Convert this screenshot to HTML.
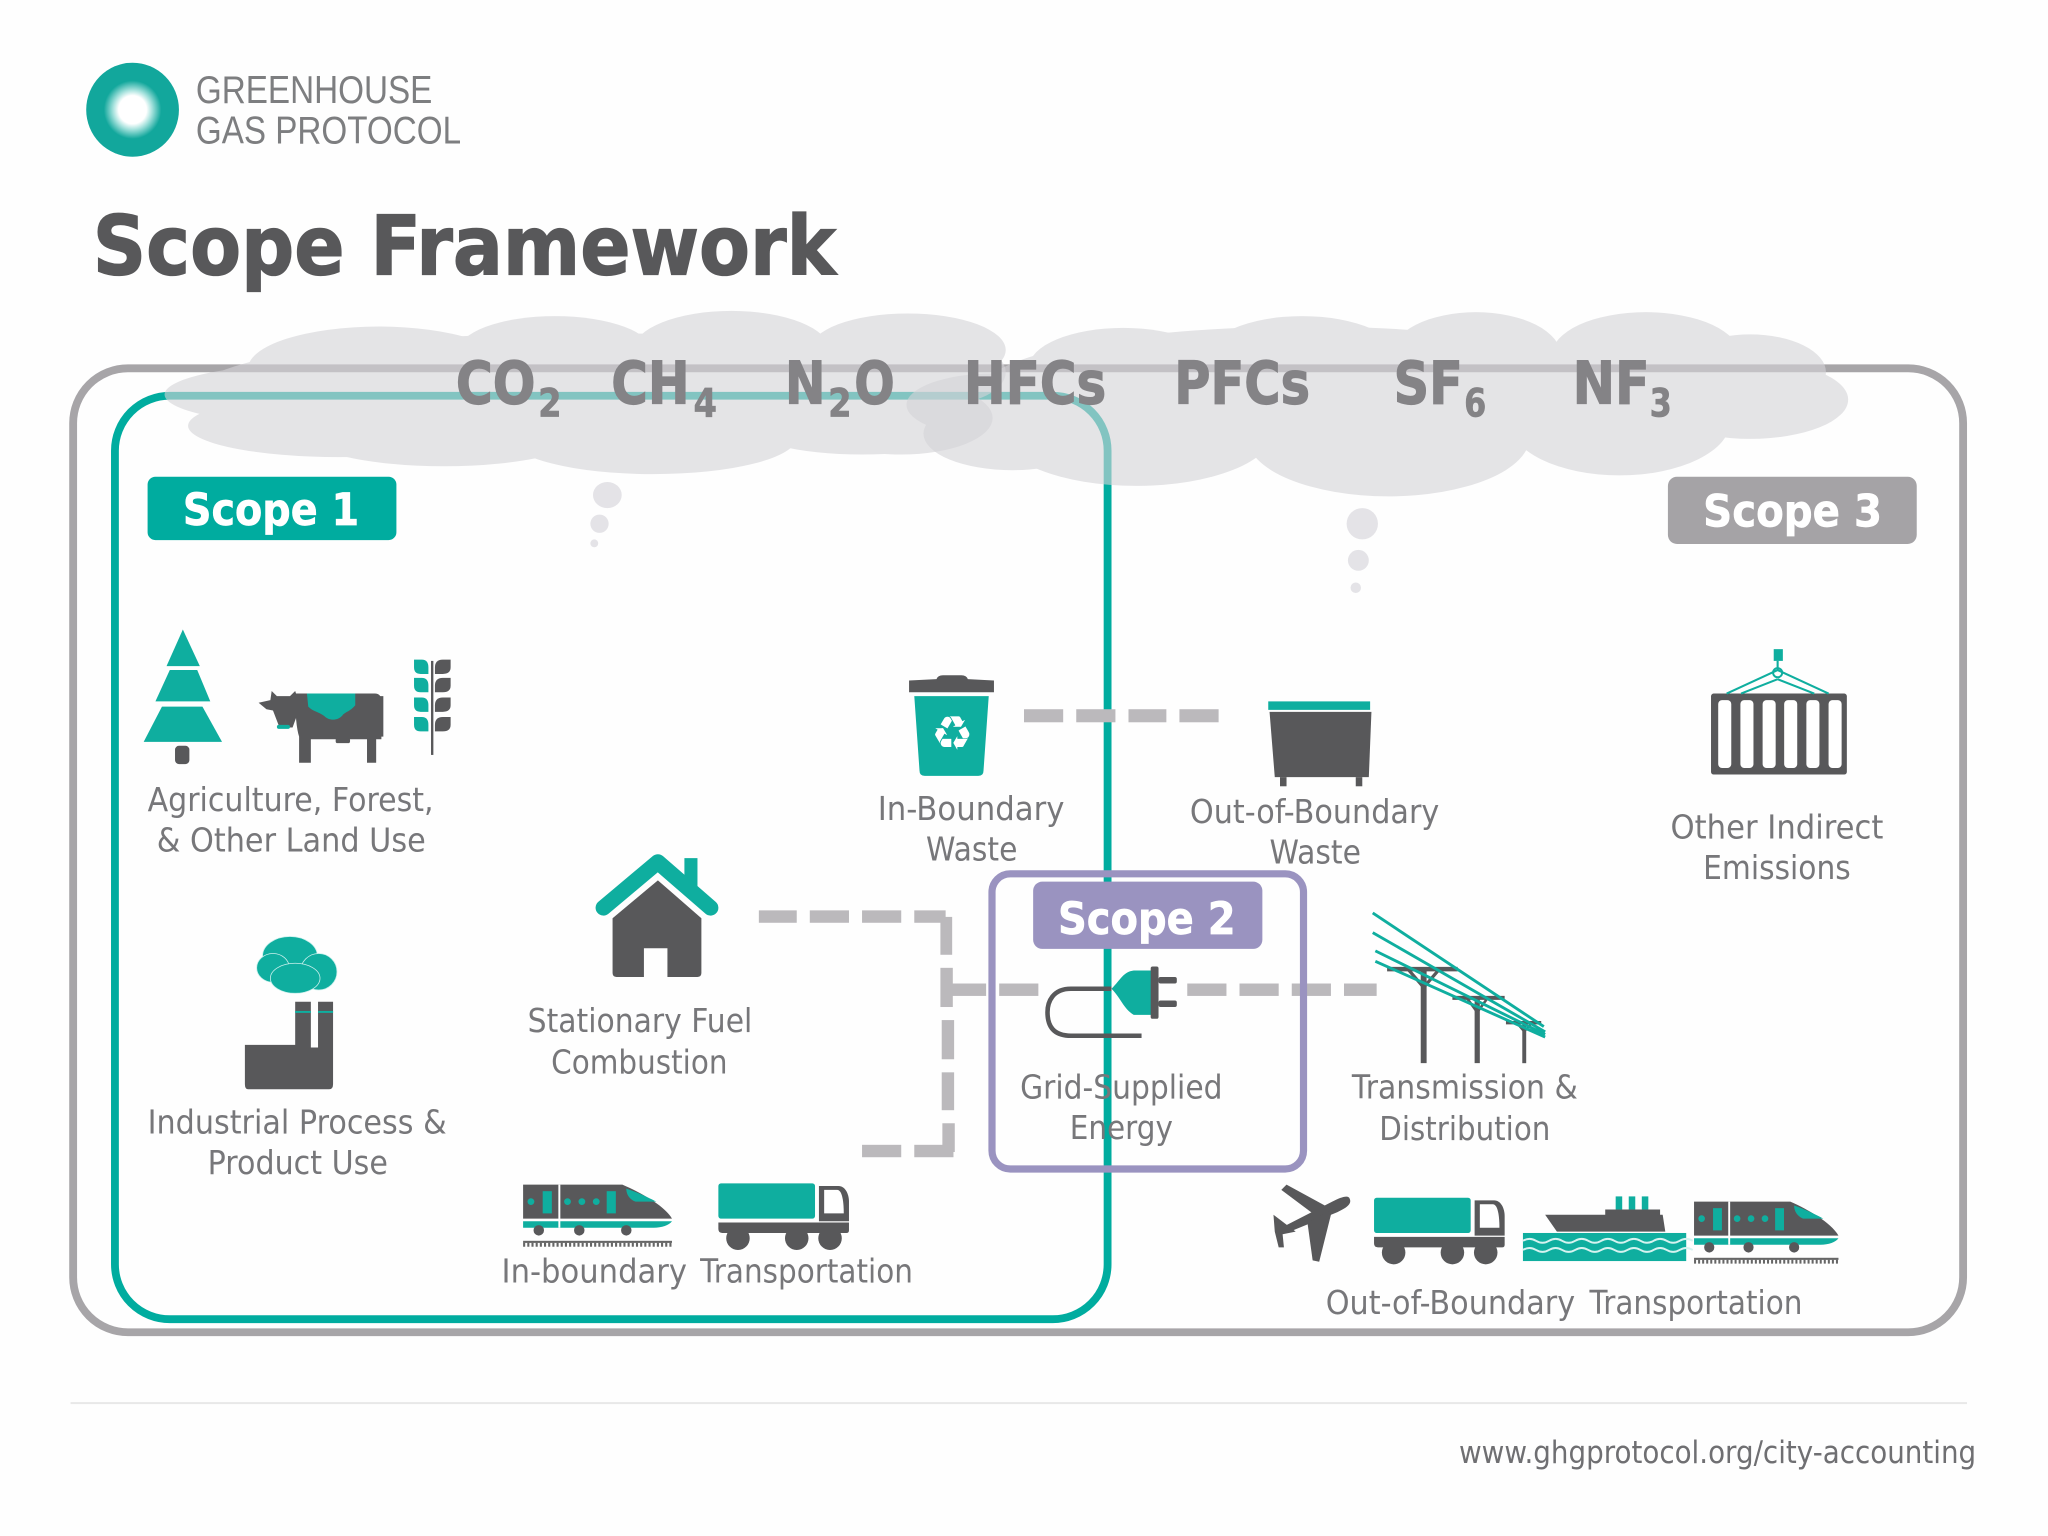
<!DOCTYPE html>
<html><head><meta charset="utf-8"><title>Scope Framework</title>
<style>
html,body{margin:0;padding:0;background:#fefefe;width:2048px;height:1536px;overflow:hidden}
svg{display:block}
text{font-family:"DejaVu Sans","Liberation Sans",sans-serif}
.l{font-size:25.5px;fill:#77777a}
.g{font-size:45px;font-weight:bold;fill:#848386;stroke:#848386;stroke-width:.9px}
.s{font-size:30px;font-weight:bold;fill:#848386;stroke:#848386;stroke-width:.5px}
.b{font-size:34px;font-weight:bold;fill:#fff;stroke:#fff;stroke-width:.5px}
</style></head><body>
<svg width="2048" height="1536" viewBox="0 0 1568 1176" xmlns="http://www.w3.org/2000/svg">
<defs>
<radialGradient id="lg"><stop offset="0" stop-color="#fff"/><stop offset=".3" stop-color="#fff"/><stop offset=".42" stop-color="#a6e2dd"/><stop offset=".62" stop-color="#12a79c"/><stop offset="1" stop-color="#12a79c"/></radialGradient>
<g id="train">
<path d="M0 0H76C90 6 108 16 114 26H0Z" fill="#58585a"/>
<path d="M79 3C88 6 96 10 102 13H86C81 11 79 7 79 3Z" fill="#0fae9f"/>
<path d="M0 28H114C112 31 106 33 100 33H0Z" fill="#0fae9f"/>
<rect x="27" y="0" width="1.5" height="33" fill="#fff"/>
<rect x="15" y="5" width="7" height="17" fill="#0fae9f"/><rect x="64" y="5" width="7" height="17" fill="#0fae9f"/>
<circle cx="6" cy="13" r="2.6" fill="#0fae9f"/><circle cx="34" cy="13" r="2.6" fill="#0fae9f"/><circle cx="45" cy="13" r="2.6" fill="#0fae9f"/><circle cx="56" cy="13" r="2.6" fill="#0fae9f"/>
<circle cx="12" cy="35" r="4" fill="#58585a"/><circle cx="43" cy="35" r="4" fill="#58585a"/><circle cx="79" cy="35" r="4" fill="#58585a"/>
<rect x="0" y="43" width="114" height="1.6" fill="#666"/>
<line x1="0" y1="46" x2="114" y2="46" stroke="#666" stroke-width="3" stroke-dasharray="1.6 1.6"/>
</g>
<g id="truck">
<rect x="0" y="0" width="74" height="27" rx="2" fill="#0fae9f"/>
<path d="M77 2H92C97 2 100 8 100 14V29H77Z" fill="#58585a"/>
<path d="M81 5H91C94 5 96 11 96 23H81Z" fill="#fff"/>
<path d="M0 30H100V36Q100 38 98 38H3Q0 38 0 35Z" fill="#58585a"/>
<circle cx="15" cy="42" r="9" fill="#58585a"/><circle cx="60" cy="42" r="9" fill="#58585a"/><circle cx="85.500" cy="42" r="9" fill="#58585a"/>
</g>
<path id="ll" d="M0 0h6q5 0 5 6v5h-6q-5 0-5-5z"/>
<path id="lr" d="M12 0h-6q-6 0-6 6v5h6q6 0 6-5z"/>
</defs>
<rect width="1568" height="1176" fill="#fefefe"/>

<!-- logo -->
<ellipse cx="101.500" cy="84" rx="35.500" ry="36" fill="url(#lg)"/>
<text x="150" y="79" font-size="30" style="font-family:'Liberation Sans',sans-serif" fill="#7d7e80" textLength="181" lengthAdjust="spacingAndGlyphs">GREENHOUSE</text>
<text x="150" y="110" font-size="30" style="font-family:'Liberation Sans',sans-serif" fill="#7d7e80" textLength="203" lengthAdjust="spacingAndGlyphs">GAS PROTOCOL</text>

<text x="71" y="210" font-size="63" font-weight="bold" fill="#58585a" stroke="#58585a" stroke-width="1" textLength="569" lengthAdjust="spacingAndGlyphs">Scope Framework</text>

<!-- boundaries -->
<rect x="56" y="282" width="1447" height="738" rx="42" fill="none" stroke="#a7a5a8" stroke-width="6"/>
<rect x="88" y="303" width="760" height="707" rx="42" fill="none" stroke="#00ac9f" stroke-width="6"/>

<!-- clouds -->
<g fill="#d5d4d8" opacity=".61">
<ellipse cx="290" cy="282" rx="100" ry="32"/><ellipse cx="425" cy="270" rx="75" ry="28"/><ellipse cx="560" cy="268" rx="75" ry="30"/><ellipse cx="695" cy="268" rx="75" ry="28"/><ellipse cx="720" cy="285" rx="50" ry="25"/>
<ellipse cx="250" cy="302" rx="124" ry="24"/><ellipse cx="260" cy="326" rx="116" ry="24"/><ellipse cx="340" cy="330" rx="110" ry="27"/><ellipse cx="500" cy="335" rx="110" ry="28"/><ellipse cx="660" cy="325" rx="90" ry="23"/><ellipse cx="690" cy="320" rx="70" ry="28"/>
<ellipse cx="450" cy="300" rx="300" ry="45"/>
</g>
<g fill="#d5d4d8" opacity=".61">
<ellipse cx="860" cy="281" rx="72" ry="30"/><ellipse cx="997" cy="275" rx="75" ry="33"/><ellipse cx="1130" cy="272" rx="65" ry="33"/><ellipse cx="1260" cy="272" rx="72" ry="33"/><ellipse cx="1340" cy="285" rx="58" ry="29"/><ellipse cx="1340" cy="306" rx="75" ry="30"/><ellipse cx="1240" cy="322" rx="85" ry="42"/><ellipse cx="1063" cy="335" rx="108" ry="45"/><ellipse cx="870" cy="330" rx="105" ry="42"/><ellipse cx="760" cy="310" rx="66" ry="24"/><ellipse cx="775" cy="332" rx="68" ry="28"/><ellipse cx="1000" cy="300" rx="250" ry="50"/>
</g>
<g fill="#e4e3e7">
<ellipse cx="465" cy="379" rx="11" ry="10"/><ellipse cx="459" cy="401" rx="7" ry="7"/><ellipse cx="455" cy="416" rx="3" ry="3"/>
<ellipse cx="1043" cy="401" rx="12" ry="12"/><ellipse cx="1040" cy="429" rx="8" ry="8"/><ellipse cx="1038" cy="450" rx="4" ry="4"/>
</g>

<!-- gases -->
<text class="g" x="349" y="309" textLength="61" lengthAdjust="spacingAndGlyphs">CO</text><text class="s" x="412" y="319" textLength="18" lengthAdjust="spacingAndGlyphs">2</text>
<text class="g" x="468" y="309" textLength="60" lengthAdjust="spacingAndGlyphs">CH</text><text class="s" x="531" y="319" textLength="18" lengthAdjust="spacingAndGlyphs">4</text>
<text class="g" x="601" y="309" textLength="31" lengthAdjust="spacingAndGlyphs">N</text><text class="s" x="634" y="319" textLength="18" lengthAdjust="spacingAndGlyphs">2</text><text class="g" x="654" y="309" textLength="31" lengthAdjust="spacingAndGlyphs">O</text>
<text class="g" x="738" y="309" textLength="109" lengthAdjust="spacingAndGlyphs">HFCs</text>
<text class="g" x="899" y="309" textLength="104" lengthAdjust="spacingAndGlyphs">PFCs</text>
<text class="g" x="1067" y="309" textLength="53" lengthAdjust="spacingAndGlyphs">SF</text><text class="s" x="1121" y="319" textLength="17" lengthAdjust="spacingAndGlyphs">6</text>
<text class="g" x="1204" y="309" textLength="59" lengthAdjust="spacingAndGlyphs">NF</text><text class="s" x="1263" y="319" textLength="17" lengthAdjust="spacingAndGlyphs">3</text>

<!-- dashes -->
<g fill="#bbb9bc">
<rect x="784" y="543" width="30" height="10"/><rect x="824" y="543" width="30" height="10"/><rect x="864" y="543" width="29" height="10"/><rect x="903" y="543" width="30" height="10"/>
<rect x="581" y="697" width="29" height="9.500"/><rect x="620" y="697" width="30" height="9.500"/><rect x="660" y="697" width="30" height="9.500"/><rect x="700" y="697" width="24" height="9.500"/>
<rect x="720" y="702" width="9" height="29"/><rect x="720" y="741" width="9.500" height="30"/><rect x="721" y="781" width="9.500" height="30"/><rect x="721" y="821" width="9.500" height="29"/><rect x="721.500" y="860" width="9.500" height="22"/>
<rect x="660" y="876.500" width="30" height="9.500"/><rect x="700" y="876.500" width="30" height="9.500"/>
<rect x="729" y="753" width="26" height="9.500"/><rect x="765" y="753" width="30" height="9.500"/>
<rect x="909" y="753" width="30" height="9.500"/><rect x="949" y="753" width="30" height="9.500"/><rect x="989" y="753" width="30" height="9.500"/><rect x="1029" y="753" width="25" height="9.500"/>
</g>

<!-- tree -->
<g fill="#0fae9f">
<path d="M140 482L153 510H127.500Z"/><path d="M130 513H151L161 537H119Z"/><path d="M124 541H155L170 568H110Z"/>
</g>
<rect x="134" y="571" width="11" height="14" rx="3" fill="#58585a"/>
<!-- cow -->
<g fill="#58585a">
<path d="M226 531H287Q292 531 292 537V566H288V584H281V566H238V584H229V564Q226 555 226 531Z"/>
<path d="M198 538L207 536L208 529L212 533H222L226 529L228 535L233 538L228 546L224 557H214L209 544L204 543Z"/>
<path d="M290 533H293.500V564H291Z"/>
<rect x="257" y="565" width="11" height="4" rx="1.500"/>
</g>
<path d="M235 531H272V540C268 545 264 545 262 548C258 552 252 552 248 548C244 545 240 545 236 541Z" fill="#0fae9f"/>
<rect x="212" y="555" width="10" height="3" rx="1.500" fill="#0fae9f"/>
<!-- wheat -->
<rect x="330" y="506" width="1.800" height="72" fill="#58585a"/>
<g fill="#0fae9f">
<use href="#ll" x="317" y="505"/><use href="#ll" x="317" y="519"/><use href="#ll" x="317" y="534"/><use href="#ll" x="317" y="549"/>
</g>
<g fill="#58585a">
<use href="#lr" x="333" y="505"/><use href="#lr" x="333" y="519"/><use href="#lr" x="333" y="534"/><use href="#lr" x="333" y="549"/>
</g>
<!-- factory -->
<path d="M187.500 800H226V767H238V802H243.500V767H255V830Q255 834 252 834H190Q187.500 834 187.500 830Z" fill="#58585a"/>
<rect x="226" y="774" width="12" height="1.500" fill="#0fae9f"/><rect x="243.500" y="774" width="11.500" height="1.500" fill="#0fae9f"/>
<g fill="#0fae9f" stroke="#c9f0ec" stroke-width=".6">
<ellipse cx="222" cy="732" rx="21" ry="15"/><ellipse cx="209" cy="741" rx="12.500" ry="11"/><ellipse cx="244" cy="744" rx="14" ry="14"/><ellipse cx="226" cy="749" rx="19" ry="11.500"/>
</g>
<!-- house -->
<path d="M469 703L503.700 674L537 703V745Q537 748 534 748H511V726H493V748H472Q469 748 469 745Z" fill="#58585a"/>
<rect x="524" y="657" width="10" height="24" fill="#0fae9f"/>
<path d="M462 695L503.700 660L544 695" fill="none" stroke="#0fae9f" stroke-width="12" stroke-linecap="round" stroke-linejoin="round"/>
<!-- bin -->
<path d="M696 521L717 520Q718 517 722 517H736Q740 517 741 520L761 521V530H696Z" fill="#58585a"/>
<path d="M700 533H757L753 590Q753 594 749 594H708Q704 594 704 590Z" fill="#0fae9f"/>
<text x="729" y="574" font-size="36" text-anchor="middle" fill="#fff">♻</text>
<!-- dumpster -->
<rect x="971" y="537" width="78" height="6.500" fill="#0fae9f"/>
<path d="M972 545H1050L1048 595H976Z" fill="#58585a"/>
<rect x="980" y="595" width="5" height="7" fill="#58585a"/><rect x="1038" y="595" width="5" height="7" fill="#58585a"/>
<!-- container -->
<rect x="1310" y="531" width="104" height="62" rx="2" fill="#58585a"/>
<g fill="#fff"><rect x="1315.500" y="536" width="10" height="52" rx="3"/><rect x="1332.500" y="536" width="10" height="52" rx="3"/><rect x="1349.500" y="536" width="10" height="52" rx="3"/><rect x="1366" y="536" width="10" height="52" rx="3"/><rect x="1383" y="536" width="10" height="52" rx="3"/><rect x="1400" y="536" width="10" height="52" rx="3"/></g>
<rect x="1358" y="497" width="7" height="9" fill="#0fae9f"/>
<path d="M1361 506V513M1361 513L1322 531M1361 513L1400 531M1361 520L1333 531M1361 520L1389 531" stroke="#0fae9f" stroke-width="1.600" fill="none"/>
<circle cx="1361" cy="515" r="3.500" fill="none" stroke="#0fae9f" stroke-width="1.500"/>
<!-- transmission -->
<g stroke="#58585a" fill="none">
<path d="M1090 741V814" stroke-width="4.500"/><path d="M1062 742H1116" stroke-width="3.500"/><path d="M1078 742L1090 756L1102 742" stroke-width="2.500"/>
<path d="M1131 763V814" stroke-width="4"/><path d="M1112 764H1152" stroke-width="3"/><path d="M1123 764L1131 775L1139 764" stroke-width="2"/>
<path d="M1167 782V814" stroke-width="3"/><path d="M1153 783H1180" stroke-width="2.500"/><path d="M1161 783L1167 790L1173 783" stroke-width="1.500"/>
</g>
<g stroke="#0fae9f" stroke-width="2.200">
<path d="M1051 699L1182 786M1051 714L1183 790M1053 728L1183 792M1053 736L1183 794"/>
</g>

<!-- Scope 2 frame -->
<rect x="759.500" y="669" width="238.500" height="226" rx="14" fill="none" stroke="#9a93c0" stroke-width="5.500"/>
<!-- plug -->
<path d="M851 757H820C806 757 802 767 802 775C802 785 806 793 820 793H874" fill="none" stroke="#58585a" stroke-width="3.500"/>
<path d="M882 743H868C860 744 858 750 851 757C858 764 860 772 868 777H882Z" fill="#0fae9f"/>
<rect x="881" y="740" width="6" height="40" rx="1.500" fill="#58585a"/>
<rect x="887" y="748" width="14" height="5" rx="1.500" fill="#58585a"/><rect x="887" y="766" width="14" height="5" rx="1.500" fill="#58585a"/>

<!-- trains etc -->
<use href="#train" transform="translate(400.500 907)"/>
<use href="#truck" transform="translate(550 906)"/>
<use href="#truck" transform="translate(1052 917)"/>
<use href="#train" transform="translate(1297 920) scale(.97 1)"/>
<!-- plane -->
<g fill="#58585a">
<path d="M1033 917C1036 922 1030 925 1024 928L985 944L981 940L1020 920C1026 917 1031 915 1033 917Z"/>
<path d="M985 907L1018 925L1009 932L981 911Z"/>
<path d="M1020 926L1010 966L1005 965L1001 936Z"/>
<path d="M975 930L992 943L982 945L983 955L979 955L976 943Z"/>
</g>
<!-- ship -->
<g fill="#0fae9f"><rect x="1237" y="916" width="5" height="10"/><rect x="1247" y="916" width="5" height="10"/><rect x="1257" y="916" width="5" height="10"/></g>
<path d="M1229 926H1271V930H1273L1275 943H1192L1183 930H1229Z" fill="#58585a"/>
<rect x="1166" y="944" width="125" height="21.500" fill="#0fae9f"/>
<path d="M1166 950q5 -3 10 0t10 0t10 0t10 0t10 0t10 0t10 0t10 0t10 0t10 0t10 0t10 0t10 0M1166 957q5 -3 10 0t10 0t10 0t10 0t10 0t10 0t10 0t10 0t10 0t10 0t10 0t10 0t10 0" fill="none" stroke="#d6f3f0" stroke-width="1.500"/>

<!-- badges -->
<rect x="113" y="365" width="190.500" height="48.500" rx="6" fill="#00ac9f"/>
<text class="b" x="140" y="402" textLength="135" lengthAdjust="spacingAndGlyphs">Scope 1</text>
<rect x="1277" y="365" width="190.500" height="51.500" rx="7" fill="#a5a3a6"/>
<text class="b" x="1304" y="403" textLength="137" lengthAdjust="spacingAndGlyphs">Scope 3</text>
<rect x="791" y="675" width="175.500" height="51.500" rx="7" fill="#9a93c0"/>
<text class="b" x="810" y="715" textLength="136" lengthAdjust="spacingAndGlyphs">Scope 2</text>

<!-- labels -->
<g>
<text class="l" x="113" y="621" textLength="219" lengthAdjust="spacingAndGlyphs">Agriculture, Forest,</text>
<text class="l" x="120" y="652" textLength="206" lengthAdjust="spacingAndGlyphs">&amp; Other Land Use</text>
<text class="l" x="113" y="868" textLength="229" lengthAdjust="spacingAndGlyphs">Industrial Process &amp;</text>
<text class="l" x="159" y="899" textLength="138" lengthAdjust="spacingAndGlyphs">Product Use</text>
<text class="l" x="404" y="790" textLength="172" lengthAdjust="spacingAndGlyphs">Stationary Fuel</text>
<text class="l" x="422" y="822" textLength="135" lengthAdjust="spacingAndGlyphs">Combustion</text>
<text class="l" x="672" y="628" textLength="143" lengthAdjust="spacingAndGlyphs">In-Boundary</text>
<text class="l" x="709" y="659" textLength="70" lengthAdjust="spacingAndGlyphs">Waste</text>
<text class="l" x="911" y="630" textLength="191" lengthAdjust="spacingAndGlyphs">Out-of-Boundary</text>
<text class="l" x="972" y="661" textLength="70" lengthAdjust="spacingAndGlyphs">Waste</text>
<text class="l" x="1279" y="642" textLength="163" lengthAdjust="spacingAndGlyphs">Other Indirect</text>
<text class="l" x="1304" y="673" textLength="113" lengthAdjust="spacingAndGlyphs">Emissions</text>
<text class="l" x="781" y="841" textLength="155" lengthAdjust="spacingAndGlyphs">Grid-Supplied</text>
<text class="l" x="819" y="872" textLength="79" lengthAdjust="spacingAndGlyphs">Energy</text>
<text class="l" x="1035" y="841" textLength="173" lengthAdjust="spacingAndGlyphs">Transmission &amp;</text>
<text class="l" x="1056" y="873" textLength="131" lengthAdjust="spacingAndGlyphs">Distribution</text>
<text class="l" x="384" y="982" textLength="142" lengthAdjust="spacingAndGlyphs">In-boundary</text>
<text class="l" x="536" y="982" textLength="163" lengthAdjust="spacingAndGlyphs">Transportation</text>
<text class="l" x="1015" y="1006" textLength="191" lengthAdjust="spacingAndGlyphs">Out-of-Boundary</text>
<text class="l" x="1217" y="1006" textLength="163" lengthAdjust="spacingAndGlyphs">Transportation</text>
</g>

<!-- footer -->
<rect x="54" y="1073.500" width="1452" height="1.500" fill="#e8e8e8"/>
<text x="1117" y="1120" font-size="24" fill="#6f6f72" textLength="396" lengthAdjust="spacingAndGlyphs">www.ghgprotocol.org/city-accounting</text>
</svg>
</body></html>
